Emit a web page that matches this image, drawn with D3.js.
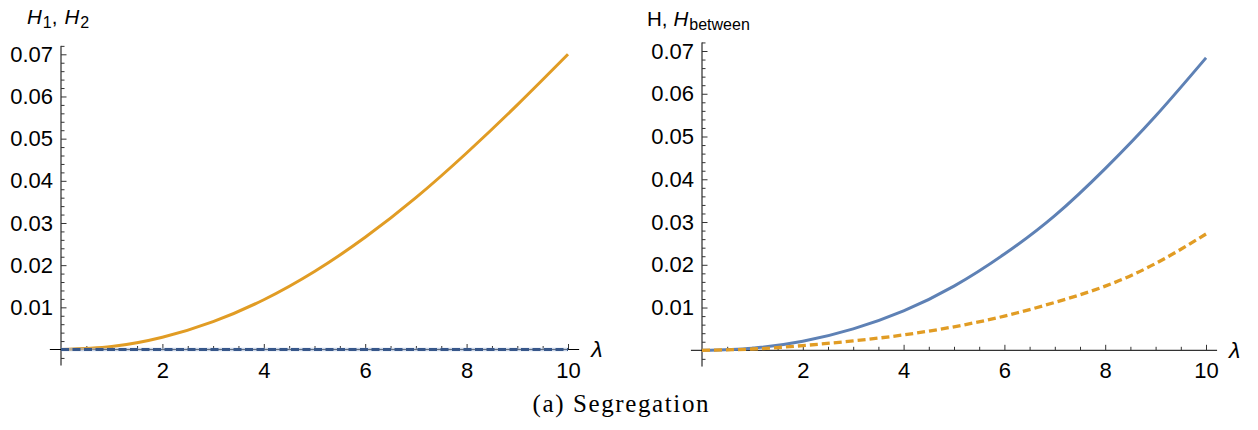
<!DOCTYPE html>
<html>
<head>
<meta charset="utf-8">
<script src="https://cdn.jsdelivr.net/npm/d3@7"></script>
<style>
  html, body { margin: 0; padding: 0; background: #fff; }
  svg { display: block; }
</style>
</head>
<body>
<script>
// ---------- data ----------
const lambdaVals = [0, 1, 2, 3, 4, 5, 6, 7, 8, 9, 10];
// left panel
const leftH1 = [0, 0.0007, 0.0029, 0.0066, 0.0118, 0.0185, 0.0266, 0.0360, 0.0466, 0.0580, 0.0700];
const leftH2 = [0, 0, 0, 0, 0, 0, 0, 0, 0, 0, 0];
// right panel
const rightH = [0, 0.0005, 0.0021, 0.0050, 0.0092, 0.0150, 0.0225, 0.0315, 0.0425, 0.0548, 0.0684];
const rightHbetween = [0, 0.0003, 0.0011, 0.0022, 0.0036, 0.0055, 0.0080, 0.0112, 0.0150, 0.0203, 0.0272];
// ticks
const xMajorTicks = [2, 4, 6, 8, 10];
const xMinorTicks = [0.5, 1, 1.5, 2.5, 3, 3.5, 4.5, 5, 5.5, 6.5, 7, 7.5, 8.5, 9, 9.5];
const yMajorTicks = [0.01, 0.02, 0.03, 0.04, 0.05, 0.06, 0.07];
const yMinorTicks = [-0.002, 0.002, 0.004, 0.006, 0.008, 0.012, 0.014, 0.016, 0.018,
  0.022, 0.024, 0.026, 0.028, 0.032, 0.034, 0.036, 0.038, 0.042, 0.044, 0.046, 0.048,
  0.052, 0.054, 0.056, 0.058, 0.062, 0.064, 0.066, 0.068, 0.072];
const yTickLabels = ["0.01", "0.02", "0.03", "0.04", "0.05", "0.06", "0.07"];
const xTickLabels = ["2", "4", "6", "8", "10"];
const caption = "(a) Segregation";

const BLUE = "#5E81B5", ORANGE = "#E19C24";

const svg = d3.select("body").append("svg").attr("width", 1258).attr("height", 430);
svg.append("rect").attr("width", 1258).attr("height", 430).attr("fill", "#fff");

function panel(opts) {
  const x = d3.scaleLinear().domain([0, 10]).range(opts.xr);
  const y = d3.scaleLinear().domain([0, 0.07]).range(opts.yr);
  const g = svg.append("g");
  const font = "'Liberation Sans', Arial, sans-serif";

  // axis lines
  g.append("line").attr("x1", x(-0.22)).attr("x2", x(10.22))
    .attr("y1", y(0)).attr("y2", y(0)).attr("stroke", "#000").attr("stroke-width", 1);
  g.append("line").attr("x1", x(0)).attr("x2", x(0))
    .attr("y1", y(-0.0038)).attr("y2", y(0.072)).attr("stroke", "#000").attr("stroke-width", 1);

  // y axis ticks
  const yMaj = d3.axisLeft(y).tickValues(yMajorTicks)
    .tickFormat((d, i) => yTickLabels[i]).tickSizeInner(-5.5).tickSizeOuter(0).tickPadding(8);
  const ya = g.append("g").attr("transform", `translate(${x(0)},0)`).call(yMaj);
  ya.select(".domain").remove();
  ya.selectAll("line").attr("stroke", "#333");
  ya.selectAll("text").attr("font-family", font).attr("font-size", 22).attr("fill", "#000");
  const yMin = d3.axisLeft(y).tickValues(yMinorTicks).tickFormat("").tickSizeInner(-3.5).tickSizeOuter(0);
  const ym = g.append("g").attr("transform", `translate(${x(0)},0)`).call(yMin);
  ym.select(".domain").remove();
  ym.selectAll("line").attr("stroke", "#333");

  // x axis ticks
  const xMaj = d3.axisBottom(x).tickValues(xMajorTicks)
    .tickFormat((d, i) => xTickLabels[i]).tickSizeInner(-5.5).tickSizeOuter(0).tickPadding(12.5);
  const xa = g.append("g").attr("transform", `translate(0,${y(0)})`).call(xMaj);
  xa.select(".domain").remove();
  xa.selectAll("line").attr("stroke", "#333");
  xa.selectAll("text").attr("font-family", font).attr("font-size", 22).attr("fill", "#000");
  const xMin = d3.axisBottom(x).tickValues(xMinorTicks).tickFormat("").tickSizeInner(-3.5).tickSizeOuter(0);
  const xm = g.append("g").attr("transform", `translate(0,${y(0)})`).call(xMin);
  xm.select(".domain").remove();
  xm.selectAll("line").attr("stroke", "#333");

  // lambda label
  g.append("text").attr("x", x(10.22) + 12).attr("y", y(0) + 7.5)
    .attr("font-family", font).attr("font-style", "italic").attr("font-size", 23)
    .text("λ");

  // curves
  const line = d3.line().x((d, i) => x(lambdaVals[i])).y(d => y(d)).curve(d3.curveNatural);
  opts.series.forEach(s => {
    g.append("path").datum(s.values).attr("d", line)
      .attr("fill", "none").attr("stroke", s.color).attr("stroke-width", s.width || 3)
      .attr("stroke-dasharray", s.dash || null)
      .attr("stroke-opacity", s.opacity || 1);
  });

  // title
  opts.title(g.append("text").attr("font-family", font).attr("font-size", 20.5).attr("fill", "#000"));
}

panel({
  xr: [61, 568], yr: [349.5, 54.3],
  series: [
    { values: leftH1, color: ORANGE },
    { values: leftH2, color: "#9fb4d6", width: 3.6, opacity: 0.6 },
    { values: leftH2, color: "#37578a", dash: "8,3.5", width: 3 }
  ],
  title: t => {
    t.attr("x", 27).attr("y", 24);
    t.append("tspan").attr("font-style", "italic").text("H");
    t.append("tspan").attr("font-size", 16).attr("dy", 4).attr("dx", 1).text("1");
    t.append("tspan").attr("dy", -4).text(",");
    t.append("tspan").attr("dx", 7).attr("font-style", "italic").text("H");
    t.append("tspan").attr("font-size", 16).attr("dy", 4).attr("dx", 1).text("2");
  }
});

panel({
  xr: [702, 1206], yr: [350.3, 51],
  series: [
    { values: rightH, color: BLUE },
    { values: rightHbetween, color: ORANGE, dash: "8,4", width: 3.3 }
  ],
  title: t => {
    t.attr("x", 647).attr("y", 26);
    t.append("tspan").text("H,");
    t.append("tspan").attr("dx", 6).attr("font-style", "italic").text("H");
    t.append("tspan").attr("font-size", 16).attr("dy", 4).attr("dx", 1).text("between");
  }
});

svg.append("text").attr("x", 620.5).attr("y", 412).attr("text-anchor", "middle")
  .attr("font-family", "'Liberation Serif', 'Times New Roman', serif").attr("font-size", 25)
  .attr("textLength", 176).attr("lengthAdjust", "spacing")
  .text(caption);
</script>
</body>
</html>
